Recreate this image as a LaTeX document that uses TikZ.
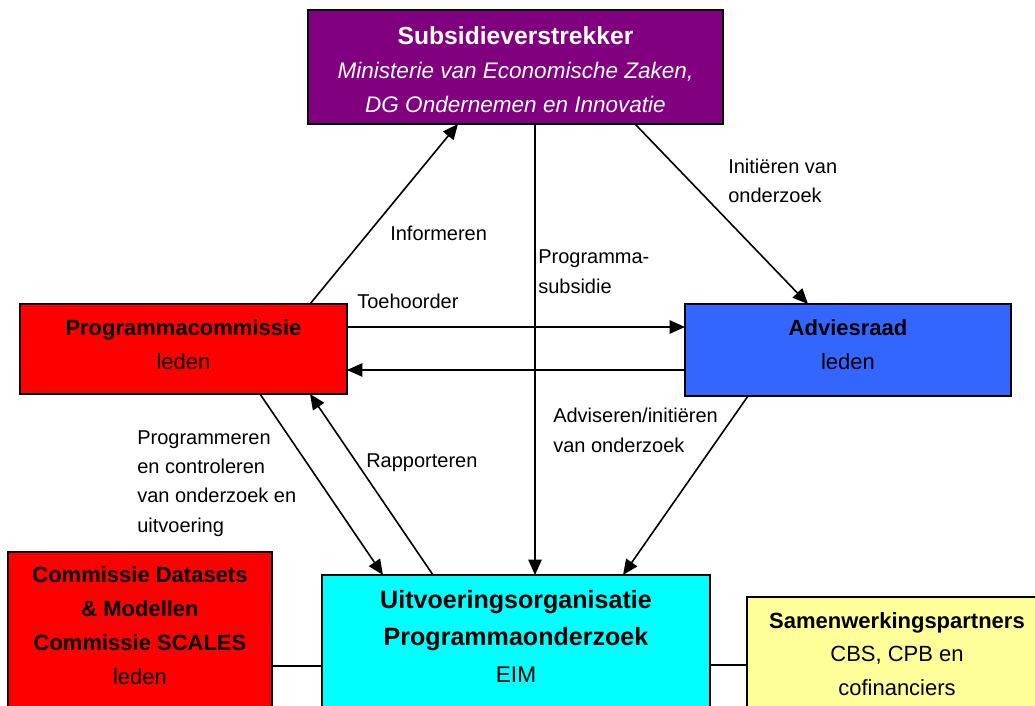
\documentclass[tikz,border=0pt]{standalone}
\usepackage{fontspec}
\setmainfont{Liberation Sans}
\usetikzlibrary{arrows.meta,calc}
\definecolor{subpurple}{HTML}{800080}
\definecolor{boxred}{HTML}{FF0000}
\definecolor{boxblue}{HTML}{3366FF}
\definecolor{boxcyan}{HTML}{00FFFF}
\definecolor{boxyellow}{HTML}{FFFF99}
\newcommand{\uobig}{\fontsize{18.8}{27.75}\selectfont\bfseries}
\begin{document}
\begin{tikzpicture}[x=0.75pt,y=-0.75pt,
  box/.style={draw=black, line width=1.5pt, inner sep=0pt, outer sep=0pt, rectangle},
  boxtext/.style={align=center, inner sep=0pt, font=\fontsize{16.5}{25.5}\selectfont},
  lbl/.style={align=left, inner sep=0pt, anchor=base west, font=\fontsize{15}{22}\selectfont},
  conn/.style={line width=1.2pt, draw=black},
  arr/.style={conn, -{Triangle[length=11.5pt,width=10pt]}},
]
\useasboundingbox (0,0) rectangle (1035,706);
\clip (0,0) rectangle (1035,706);
\fill[white] (0,0) rectangle (1035,706);

% boxes
\node[box, fill=subpurple, minimum width=311.25pt, minimum height=85.5pt] (sub) at (515.5,67) {};
\node[box, fill=boxred, minimum width=245.25pt, minimum height=67.5pt] (pc) at (183.5,349) {};
\node[box, fill=boxblue, minimum width=244.5pt, minimum height=69pt] (ar) at (848,350) {};
\node[box, fill=boxred, minimum width=198pt, minimum height=133.5pt] (cd) at (140,641) {};
\node[box, fill=boxcyan, minimum width=291pt, minimum height=116.25pt] (uo) at (516,652.5) {};
\node[box, fill=boxyellow, minimum width=225pt, minimum height=99.75pt] (sw) at (897,663.5) {};

% box texts
\node[boxtext, text=white, font=\fontsize{16.9}{25.5}\selectfont] (subtxt) at (515.5,70) {{\fontsize{18.5}{25.5}\selectfont\bfseries Subsidieverstrekker}\\\itshape Ministerie van Economische Zaken,\\\itshape DG Ondernemen en Innovatie};
\node[boxtext] (pctxt) at (183.5,345) {\bfseries Programmacommissie\\leden};
\node[boxtext] (artxt) at (848,345) {\bfseries Adviesraad\\leden};
\node[boxtext] (cdtxt) at (140,626) {\bfseries Commissie Datasets\\\bfseries \& Modellen\\\bfseries Commissie SCALES\\leden};
\node[boxtext, font=\fontsize{17}{27.75}\selectfont] (uotxt) at (516,636) {{\uobig Uitvoeringsorganisatie}\\{\uobig Programmaonderzoek}\\EIM};
\node[boxtext, font=\fontsize{16.5}{25}\selectfont] (swtxt) at (897,654) {\bfseries Samenwerkingspartners\\CBS, CPB en\\cofinanciers};

% connectors
\draw[arr] ($(pc.north west)+(290,0)$) -- ($(sub.south west)+(150,0)$);
\draw[arr] ($(sub.south west)+(227,0)$) -- ($(uo.north west)+(213,0)$);
\draw[arr] ($(sub.south west)+(327,0)$) -- ($(ar.north west)+(123,0)$);
\draw[arr] ($(pc.north east)+(0,23)$) -- ($(ar.north west)+(0,23)$);
\draw[arr] ($(ar.north west)+(0,66)$) -- ($(pc.north east)+(0,66)$);
\draw[arr] ($(pc.south west)+(240,0)$) -- ($(uo.north west)+(61,0)$);
\draw[arr] ($(uo.north west)+(111,0)$) -- ($(pc.south west)+(290,0)$);
\draw[arr] ($(ar.south west)+(63,0)$) -- ($(uo.north west)+(301,0)$);
\draw[conn] ($(cd.north east)+(0,114)$) -- ($(uo.north west)+(0,91)$);
\draw[conn] ($(uo.north east)+(0,90)$) -- ($(sw.north west)+(0,68)$);

% labels (base = baseline of the last line)
\node[lbl] (linf) at (390,240.5) {Informeren};
\node[lbl] (lsub) at (538,293) {Programma-\\subsidie};
\node[lbl] (lini) at (728,203) {Initiëren van\\onderzoek};
\node[lbl] (ltoe) at (357,308) {Toehoorder};
\node[lbl] (lprg) at (137,532) {Programmeren\\en controleren\\van onderzoek en\\uitvoering};
\node[lbl] (lrap) at (366,467) {Rapporteren};
\node[lbl] (ladv) at (553,452) {Adviseren/initiëren\\van onderzoek};
\end{tikzpicture}
\end{document}
